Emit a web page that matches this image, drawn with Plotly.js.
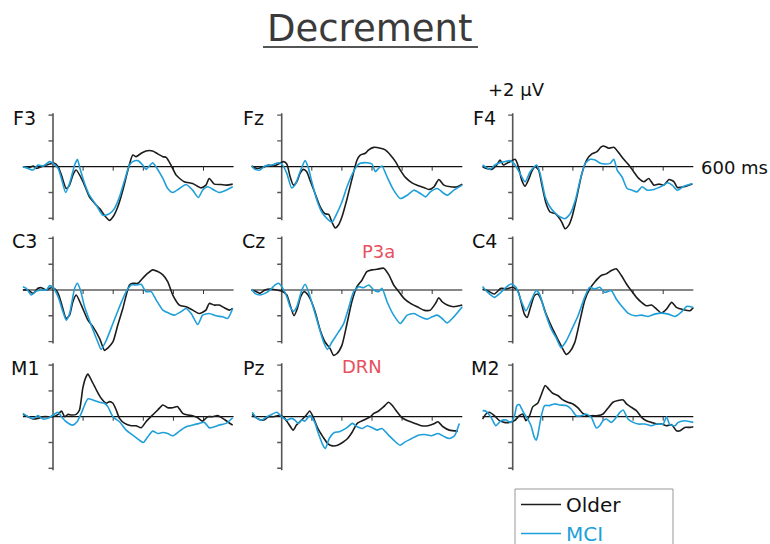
<!DOCTYPE html>
<html><head><meta charset="utf-8">
<script src="https://cdn.plot.ly/plotly-3.0.1.min.js"></script>
<style>html,body{margin:0;padding:0;background:#fff}#chart{width:770px;height:544px}</style>
</head><body><div id="chart"></div>
<script>
// ---- Data (time in ms, amplitude in µV) ----
const channels = ["F3","Fz","F4","C3","Cz","C4","M1","Pz","M2"];
const groups = ["Older","MCI"];
const yTickVals = [-4,-2,2,4];
const xTickVals = [100,200,300,400,500];
const timeSpan = [-100, 600];
const ampSpan = [-4.15, 4.15];

const F3_older_t = [-100,-78,-66,-55,-33,-11,5,17,28,44,55,66,77,100,121,144,155,171,188,199,215,232,249,265,276,293,309,331,348,365,376,392,409,436,464,492,508,519,536,558,575,597];
const F3_older_v = [0,-0.05,0.05,-0.13,0.05,0.21,0.26,0,-0.65,-1.69,-1.43,-0.65,-0.26,-1.17,-2.34,-2.99,-3.25,-3.77,-4.16,-3.9,-3.12,-1.82,-0.26,0.91,0.78,1.04,1.22,1.22,0.99,0.78,0.73,0.13,-0.65,-1.17,-1.3,-1.64,-1.43,-0.91,-1.35,-1.38,-1.43,-1.35];
const F3_mci_t = [-100,-83,-66,-50,-33,-11,0,17,28,42,55,72,81,91,105,121,144,166,188,204,221,238,254,265,282,298,309,331,342,365,381,398,420,442,464,483,497,514,536,552,575,597];
const F3_mci_v = [0,-0.13,-0.26,0.13,0.05,0.39,0.26,-0.13,-0.91,-2.0,-1.3,0.13,0.57,-0.26,-1.3,-2.21,-2.99,-3.77,-3.64,-3.25,-2.34,-1.04,0.13,0.39,0.47,0.13,-0.21,0.31,0,-0.91,-1.69,-2.0,-1.69,-1.38,-1.82,-2.39,-1.82,-1.56,-1.82,-2.0,-1.82,-1.56];

const Fz_older_t = [-100,-83,-61,-44,-28,-11,6,17,28,39,50,61,72,83,94,111,128,144,156,167,178,189,200,217,233,250,261,278,289,306,328,344,361,378,394,411,433,450,472,489,506,522,539,561,583,600];
const Fz_older_v = [0.05,-0.13,-0.05,0.13,0.05,0.21,0.39,0.21,-0.78,-1.43,-1.17,-0.52,-0.21,-0.39,-1.04,-2.08,-3.12,-3.65,-3.7,-4.3,-4.75,-4.5,-3.9,-2.5,-1.0,0.5,0.9,1.04,1.3,1.5,1.43,1.3,0.91,0.39,-0.26,-0.83,-1.25,-1.43,-1.61,-1.77,-1.56,-0.99,-1.43,-1.56,-1.56,-1.35];
const Fz_mci_t = [-100,-89,-72,-56,-33,-11,0,17,33,44,61,78,89,100,117,133,150,167,183,200,217,233,250,261,283,300,311,322,333,350,372,394,417,439,461,478,494,517,539,550,572,600];
const Fz_mci_v = [0.05,-0.21,-0.26,0.05,0.13,0.31,0.21,-0.52,-1.64,-1.43,-0.39,0.47,-0.13,-1.17,-2.6,-3.51,-4.0,-4.3,-3.64,-2.73,-1.56,-0.65,0.05,0.26,0.31,0.21,-0.39,-0.13,0.05,-0.78,-1.82,-2.47,-2.21,-1.82,-2.08,-2.34,-1.95,-1.69,-2.08,-2.21,-1.82,-1.43];

const F4_older_t = [-100,-87,-70,-53,-42,-31,-20,-9,8,19,30,41,52,63,74,86,97,111,124,141,152,163,174,186,197,213,230,247,263,280,293,302,319,336,352,369,386,402,419,436,452,469,486,502,519,536,547,569,597];
const F4_older_v = [0,-0.13,-0.21,0.13,0.52,0.13,0.26,0.39,0.57,0,-1.04,-1.51,-1.04,-0.39,0,-0.26,-1.43,-2.86,-3.51,-3.64,-3.9,-4.29,-4.81,-4.55,-3.9,-2.34,-0.52,0.57,0.99,1.17,1.51,1.61,1.43,1.51,1.09,0.57,0.13,-0.39,-0.91,-1.17,-0.91,-1.43,-1.35,-1.43,-0.99,-1.17,-1.61,-1.56,-1.35];
const F4_mci_t = [-100,-92,-76,-59,-42,-26,-9,8,24,41,58,74,80,91,108,124,141,158,174,191,208,224,241,258,274,291,308,324,336,347,363,380,397,413,430,447,469,486,502,513,530,547,569,597];
const F4_mci_v = [0.13,0,-0.21,0.13,0.31,0.39,0.47,0.13,-0.52,-1.17,-0.39,0.05,0.13,-0.52,-2.34,-3.12,-3.59,-3.9,-4.03,-3.64,-2.6,-1.04,0.26,0.57,0.52,0.26,0.21,0.26,0.57,-0.26,-0.78,-1.69,-1.82,-1.95,-1.56,-1.82,-1.77,-1.61,-1.43,-1.25,-1.43,-1.82,-1.51,-1.3];

const C3_older_t = [-100,-83,-66,-50,-39,-22,-6,6,17,28,44,55,66,77,94,116,133,155,171,182,199,215,232,254,265,282,298,315,331,348,365,381,398,420,442,464,486,508,519,536,552,569,586,597];
const C3_older_v = [0,0,-0.26,0.13,0.18,0,0.18,0.08,-0.26,-1.04,-2.21,-1.95,-0.91,-0.39,-1.17,-2.34,-2.86,-3.77,-4.68,-4.5,-4.03,-2.73,-1.43,0.39,0.52,0.52,0.91,1.3,1.56,1.43,1.17,0.65,-0.39,-1.17,-1.3,-1.56,-1.82,-1.56,-1.04,-1.17,-1.17,-1.38,-1.56,-1.43];
const C3_mci_t = [-100,-89,-72,-55,-39,-22,-11,0,17,33,44,55,72,81,91,105,127,149,160,177,199,221,243,260,276,293,309,326,343,365,387,403,425,442,459,481,497,519,541,564,580,597];
const C3_mci_v = [0.26,0.13,-0.39,-0.08,0,0,0.34,0.18,-0.52,-1.69,-2.34,-1.82,0.13,0.52,0,-1.3,-2.73,-4.03,-4.6,-3.9,-2.6,-1.3,-0.13,0.39,0.39,0.44,-0.13,-0.13,-0.78,-1.56,-1.82,-1.95,-1.69,-1.43,-1.82,-2.68,-1.95,-1.82,-2.0,-2.08,-2.21,-1.43];

const Cz_older_t = [-100,-89,-72,-56,-39,-17,0,17,28,41,52,63,74,83,94,111,128,144,161,172,183,200,217,233,250,267,283,300,317,339,356,372,389,406,428,450,472,494,511,522,533,550,572,600];
const Cz_older_v = [0,-0.08,-0.26,0,0.08,0,-0.08,-0.39,-1.17,-2.0,-1.43,-0.52,-0.13,-0.26,-0.65,-1.69,-3.12,-4.03,-4.55,-5.06,-4.94,-4.29,-2.6,-0.91,0.26,0.78,1.43,1.56,1.61,1.69,1.17,0.39,-0.13,-0.65,-1.04,-1.3,-1.56,-1.56,-1.04,-0.6,-0.91,-1.17,-1.3,-1.17];
const Cz_mci_t = [-100,-89,-72,-56,-39,-22,-11,0,17,28,39,50,67,78,89,106,122,139,152,167,189,206,222,239,256,272,289,306,322,333,350,372,394,417,439,461,483,500,517,533,550,572,600];
const Cz_mci_v = [0.08,-0.26,-0.39,-0.26,0,0.39,0.52,0.26,-0.52,-1.3,-1.64,-1.3,0,0.44,-0.13,-1.43,-2.73,-4.03,-4.6,-4.03,-3.25,-2.6,-1.43,-0.13,0.26,0.18,0.39,0,-0.13,0.13,-0.91,-1.95,-2.6,-1.95,-1.82,-2.08,-2.26,-2.08,-1.95,-2.21,-2.55,-2.08,-1.3];

const C4_older_t = [-100,-83,-61,-39,-22,0,17,28,39,48,59,72,83,94,111,133,150,167,178,189,206,222,239,256,272,294,311,328,344,361,378,394,411,428,444,461,478,494,511,528,544,567,589,600];
const C4_older_v = [0.08,-0.05,-0.31,0.13,0.08,0.21,-0.05,-0.96,-1.87,-2.13,-1.35,-0.44,-0.31,-0.7,-1.87,-3.04,-3.82,-4.6,-4.99,-4.81,-4.08,-2.52,-0.83,0.08,0.6,1.12,1.25,1.51,1.64,1.12,0.47,-0.05,-0.57,-0.96,-1.22,-1.17,-1.48,-1.79,-1.48,-0.96,-1.35,-1.53,-1.61,-1.35];
const C4_mci_t = [-100,-83,-61,-39,-22,-6,11,28,44,61,78,89,106,128,144,161,178,194,217,239,256,272,289,306,328,344,361,383,406,428,450,472,494,517,539,561,578,600];
const C4_mci_v = [0.28,-0.18,-0.57,-0.18,0.21,0.47,0.21,-0.83,-1.61,-0.83,-0.05,-0.31,-1.61,-3.04,-3.69,-4.47,-3.95,-3.17,-2.0,-0.57,0.21,0.08,0.21,-0.18,-0.05,-0.7,-1.22,-1.79,-2.0,-1.95,-2.05,-1.87,-1.79,-1.87,-2.05,-1.69,-1.27,-1.35];

const M1_older_t = [-100,-83,-66,-50,-33,-11,0,17,28,39,50,61,77,88,99,108,116,127,144,160,177,188,199,210,221,238,260,276,293,309,331,348,365,381,398,414,431,448,464,481,497,514,530,547,564,580,597];
const M1_older_v = [0.18,0,-0.18,-0.13,0,0,0,0.18,0.44,0,0.18,0.13,0.18,0.52,2.21,2.99,3.3,2.86,2.08,1.43,1.04,1.17,1.04,0.52,-0.13,-0.52,-0.7,-0.7,-0.86,-0.39,0.13,0.52,0.91,0.7,0.7,0.78,0.26,0.13,0.08,-0.08,-0.34,0,0,0.08,-0.13,-0.39,-0.65];
const M1_mci_t = [-100,-83,-66,-50,-33,-17,0,17,28,44,66,80,94,105,116,133,155,171,182,199,221,243,265,287,300,315,331,348,365,381,398,420,442,464,486,503,519,536,552,575,597];
const M1_mci_v = [0.26,0,-0.13,0.08,-0.18,-0.13,0.13,0.34,0,-0.39,-0.65,-0.39,0.26,0.91,1.38,1.3,1.12,1.04,0.78,0,-0.39,-1.04,-1.43,-1.82,-2.0,-1.56,-1.12,-1.3,-1.22,-1.3,-1.48,-1.12,-0.78,-0.65,-0.52,-0.44,-0.86,-0.78,-0.65,-0.52,-0.08];

const Pz_older_t = [-98,-82,-60,-44,-27,-11,5,22,38,49,66,82,93,104,120,137,153,169,186,202,219,235,251,273,295,306,322,339,355,366,383,399,421,443,464,486,508,519,536,557,585];
const Pz_older_v = [0.18,-0.13,-0.26,0,0,0.08,0,-0.52,-1.04,-0.65,-0.26,0.13,0.44,0,-0.91,-1.56,-2.08,-2.26,-2.21,-2.0,-1.69,-1.17,-0.52,-0.26,0,0.26,0.44,0.78,1.12,0.91,0.39,-0.08,-0.34,-0.52,-0.7,-0.7,-0.52,-0.39,-0.78,-1.04,-1.12];
const Pz_mci_t = [-98,-82,-66,-49,-33,-16,0,16,33,44,55,66,77,93,109,120,137,145,158,175,191,213,235,251,268,284,301,317,333,355,372,393,410,432,454,475,497,519,541,557,574,590];
const Pz_mci_v = [0.34,-0.13,-0.26,0,0.18,0.34,0,-0.26,-0.13,-0.26,-0.52,-0.26,-0.34,0.08,-0.39,-1.17,-2.21,-2.47,-1.69,-1.22,-1.17,-0.91,-0.52,-0.78,-0.91,-0.7,-0.86,-1.04,-0.91,-1.43,-1.82,-2.21,-1.95,-1.69,-1.43,-1.38,-1.48,-1.3,-1.56,-1.69,-1.48,-0.52];

const M2_older_t = [-100,-89,-78,-61,-44,-28,-11,6,22,33,44,56,67,83,94,108,119,133,150,167,183,200,217,233,250,267,283,300,317,333,350,367,378,394,411,428,444,461,478,494,511,528,544,556,572,589,600];
const M2_older_v = [-0.18,0.21,0.34,0.08,-0.31,-0.44,-0.44,-0.31,0.08,0.21,-0.31,0.08,0.78,1.04,1.64,2.42,2.16,1.82,1.64,1.3,1.12,0.99,0.68,0.26,0.08,0.08,0.08,0.21,0.68,1.12,1.25,1.3,0.99,0.73,0.47,-0.05,-0.31,-0.44,-0.57,-0.57,-0.7,-0.62,-1.09,-1.09,-0.83,-0.83,-0.78];
const M2_mci_t = [-100,-89,-72,-56,-39,-22,-6,6,14,22,30,39,50,61,72,78,83,94,106,122,139,156,178,194,211,228,244,261,278,289,300,311,328,344,356,367,383,400,417,439,461,478,500,511,522,539,550,572,600];
const M2_mci_v = [0.47,0.42,-0.05,-0.7,-0.31,-0.26,-0.44,0.08,0.86,0.94,0.6,0.21,-0.18,-0.7,-1.61,-1.82,-1.48,-0.05,0.86,0.86,0.99,0.91,0.86,0.6,0.08,0.08,0.21,-0.05,-0.88,-0.7,-0.31,-0.18,-0.44,-0.05,0.34,0.52,-0.18,-0.44,-0.57,-0.57,-0.7,-0.57,-0.57,0,-0.62,-0.7,-0.44,-0.31,-0.44];

const series = {
  F3:[[F3_older_t,F3_older_v],[F3_mci_t,F3_mci_v]],
  Fz:[[Fz_older_t,Fz_older_v],[Fz_mci_t,Fz_mci_v]],
  F4:[[F4_older_t,F4_older_v],[F4_mci_t,F4_mci_v]],
  C3:[[C3_older_t,C3_older_v],[C3_mci_t,C3_mci_v]],
  Cz:[[Cz_older_t,Cz_older_v],[Cz_mci_t,Cz_mci_v]],
  C4:[[C4_older_t,C4_older_v],[C4_mci_t,C4_mci_v]],
  M1:[[M1_older_t,M1_older_v],[M1_mci_t,M1_mci_v]],
  Pz:[[Pz_older_t,Pz_older_v],[Pz_mci_t,Pz_mci_v]],
  M2:[[M2_older_t,M2_older_v],[M2_mci_t,M2_mci_v]]
};

// ---- Layout geometry ----
const W = 770, H = 544;
const colX = [53, 281.7, 512.7];      // pixel x of time 0
const rowY = [166.7, 290, 416.7];     // pixel y of 0 µV
const PX_PER_MS = 0.301, PX_PER_UV = 12.9;
const XR = [-110, 615], YR = [-5.3, 4.25];
const colors = ["#1c1c1c", "#1e9fd9"];
const FONT = "'DejaVu Sans', sans-serif";

const traces = [];
const layout = {
  width: W, height: H,
  margin: {l:0, r:0, t:0, b:0, autoexpand:false},
  paper_bgcolor: "#fff", plot_bgcolor: "rgba(0,0,0,0)",
  showlegend: true,
  legend: {x: 516/W, y: 1 - 485/H, xanchor: "left", yanchor: "top",
           borderwidth: 0, bgcolor: "rgba(0,0,0,0)",
           font: {family: FONT, size: 20, color: "#111"}, tracegroupgap: 0,
           itemwidth: 40},
  shapes: [], annotations: []
};

channels.forEach((ch, i) => {
  const r = Math.floor(i/3), c = i%3, n = i+1;
  const xa = "xaxis" + (n===1 ? "" : n), ya = "yaxis" + (n===1 ? "" : n);
  const xr = "x" + (n===1 ? "" : n), yr = "y" + (n===1 ? "" : n);
  const left = colX[c] + XR[0]*PX_PER_MS, right = colX[c] + XR[1]*PX_PER_MS;
  const top = rowY[r] - YR[1]*PX_PER_UV, bottom = rowY[r] - YR[0]*PX_PER_UV;
  layout[xa] = {domain:[left/W, right/W], range: XR, visible:false, fixedrange:true, anchor: yr};
  layout[ya] = {domain:[1-bottom/H, 1-top/H], range: YR, visible:false, fixedrange:true, anchor: xr};

  // axes drawn in data coordinates
  layout.shapes.push({type:"line", xref:xr, yref:yr, x0:0, x1:0, y0:ampSpan[0], y1:ampSpan[1],
    line:{color:"#555", width:1.6}, layer:"below"});
  layout.shapes.push({type:"line", xref:xr, yref:yr, x0:timeSpan[0], x1:timeSpan[1], y0:0, y1:0,
    line:{color:"#111", width:1.2}, layer:"below"});
  yTickVals.forEach(v => layout.shapes.push({type:"line", xref:xr, yref:yr,
    x0:-4.5/PX_PER_MS, x1:0, y0:v, y1:v, line:{color:"#555", width:1.4}, layer:"below"}));
  xTickVals.forEach(t => layout.shapes.push({type:"line", xref:xr, yref:yr,
    x0:t, x1:t, y0:0, y1:-4/PX_PER_UV, line:{color:"#333", width:1}, layer:"below"}));

  // channel label
  layout.annotations.push({xref:"paper", yref:"paper", x:(colX[c]-28)/W, y:1-(rowY[r]-49)/H,
    text: ch, showarrow:false, xanchor:"center", yanchor:"middle",
    font:{family:FONT, size:19, color:"#111"}});

  series[ch].forEach((s, g) => {
    traces.push({type:"scatter", mode:"lines", x:s[0], y:s[1], xaxis:xr, yaxis:yr,
      line:{color:colors[g], width:1.6, shape:"spline", smoothing:0.6},
      name: g===0 ? groups[0] : '<span style="color:'+colors[1]+'">'+groups[1]+'</span>',
      showlegend: i===0, hoverinfo:"skip"});
  });
});

// legend frame
layout.shapes.push({type:"rect", xref:"paper", yref:"paper", x0:515/W, x1:673/W, y0:1-489/H, y1:-0.05,
  line:{color:"#999", width:1}, fillcolor:"rgba(0,0,0,0)"});
// Title + underline
layout.annotations.push({xref:"paper", yref:"paper", x:370/W, y:1-28/H, text:"Decrement",
  showarrow:false, xanchor:"center", yanchor:"middle", font:{family:FONT, size:37, color:"#3a3a3a"}});
layout.shapes.push({type:"line", xref:"paper", yref:"paper", x0:263/W, x1:478/W, y0:1-47/H, y1:1-47/H,
  line:{color:"#555", width:2}});
// scale annotations
layout.annotations.push({xref:"paper", yref:"paper", x:516/W, y:1-90/H, text:"+2 µV",
  showarrow:false, xanchor:"center", yanchor:"middle", font:{family:FONT, size:18, color:"#111"}});
layout.annotations.push({xref:"paper", yref:"paper", x:699/W, y:1-167/H, text:"600 ms",
  showarrow:false, xanchor:"left", yanchor:"middle", font:{family:FONT, size:18, color:"#111"}});
// component labels
layout.annotations.push({xref:"paper", yref:"paper", x:378/W, y:1-251/H, text:"P3a",
  showarrow:false, xanchor:"center", yanchor:"middle", font:{family:FONT, size:18, color:"#e8505e"}});
layout.annotations.push({xref:"paper", yref:"paper", x:362/W, y:1-366/H, text:"DRN",
  showarrow:false, xanchor:"center", yanchor:"middle", font:{family:FONT, size:18, color:"#e8505e"}});

Plotly.newPlot("chart", traces, layout, {staticPlot:true, displayModeBar:false});
</script></body></html>
